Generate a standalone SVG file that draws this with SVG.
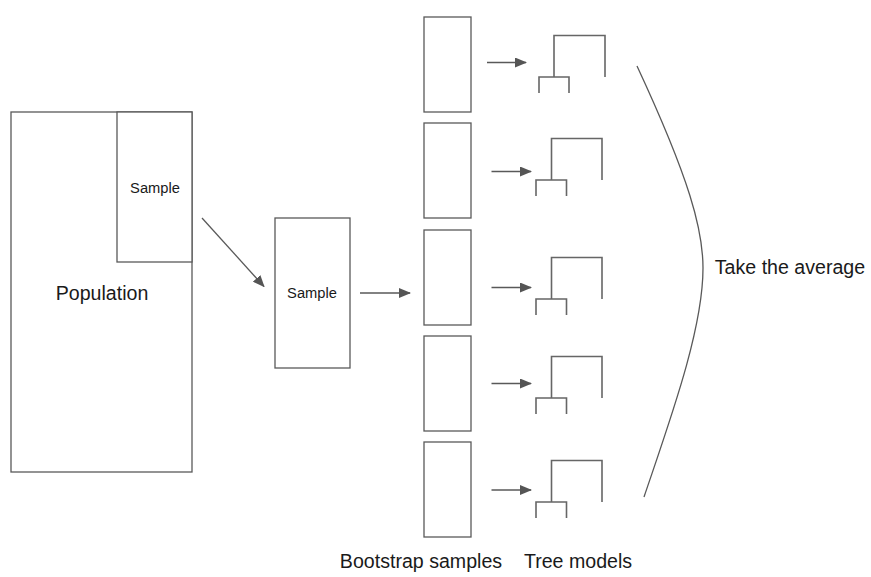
<svg xmlns="http://www.w3.org/2000/svg" width="871" height="577" viewBox="0 0 871 577">
<style>
.box{fill:#fff;stroke:#595959;stroke-width:1.3}
.ln{fill:none;stroke:#595959;stroke-width:1.3}
.tr{fill:none;stroke:#666;stroke-width:1.6}
text{font-family:"Liberation Sans",Arial,sans-serif;fill:#1a1a1a;text-anchor:middle;dominant-baseline:central}
.s{font-size:14.7px}
.l{font-size:19.6px}
</style>
<defs>
<marker id="ah" markerWidth="12" markerHeight="10" refX="11" refY="5" orient="auto" markerUnits="userSpaceOnUse">
<path d="M0,0 L12,5 L0,10 Z" fill="#555"/>
</marker>
</defs>
<rect width="871" height="577" fill="#fff"/>
<g id="population">
<rect class="box" x="11" y="112" width="181" height="360"/>
<text class="l" x="102" y="293">Population</text>
</g>
<g id="sample-inner">
<rect class="box" x="117" y="112" width="75" height="150"/>
<text class="s" x="155" y="188">Sample</text>
</g>
<g id="sample">
<rect class="box" x="275" y="218" width="75" height="150"/>
<text class="s" x="312" y="293">Sample</text>
</g>
<g id="bootstrap">
<rect class="box" x="424" y="17" width="47" height="95"/>
<rect class="box" x="424" y="123" width="47" height="95"/>
<rect class="box" x="424" y="230" width="47" height="95"/>
<rect class="box" x="424" y="336" width="47" height="95"/>
<rect class="box" x="424" y="442" width="47" height="95"/>
</g>
<g id="trees">
<path class="tr" d="M605,77 V35.5 H554 V77 M539,93 V77 H569 V93"/>
<path class="tr" d="M602,180 V138.5 H551.5 V180 M536,196 V180 H566.5 V196"/>
<path class="tr" d="M602,299 V257.5 H551.5 V299 M536,315 V299 H566.5 V315"/>
<path class="tr" d="M602,398 V356.5 H551.5 V398 M536,414 V398 H566.5 V414"/>
<path class="tr" d="M602,502 V460.5 H551.5 V502 M536,518 V502 H566.5 V518"/>
</g>
<g id="connectors">
<line class="ln" x1="202" y1="218" x2="264" y2="286.5" marker-end="url(#ah)"/>
<line class="ln" x1="360" y1="293" x2="410" y2="293" marker-end="url(#ah)"/>
<line class="ln" x1="487" y1="62.5" x2="526" y2="62.5" marker-end="url(#ah)"/>
<line class="ln" x1="491.5" y1="171.5" x2="531" y2="171.5" marker-end="url(#ah)"/>
<line class="ln" x1="491.5" y1="287.5" x2="531" y2="287.5" marker-end="url(#ah)"/>
<line class="ln" x1="491.5" y1="383.5" x2="531" y2="383.5" marker-end="url(#ah)"/>
<line class="ln" x1="491.5" y1="490" x2="531" y2="490" marker-end="url(#ah)"/>
<path class="ln" d="M637,66 C690,180 703,230 703,268 C703,330 670,420 644,497"/>
</g>
<g id="labels">
<text class="l" x="790" y="267">Take the average</text>
<text class="l" x="421" y="561">Bootstrap samples</text>
<text class="l" x="578" y="561">Tree models</text>
</g>
</svg>
